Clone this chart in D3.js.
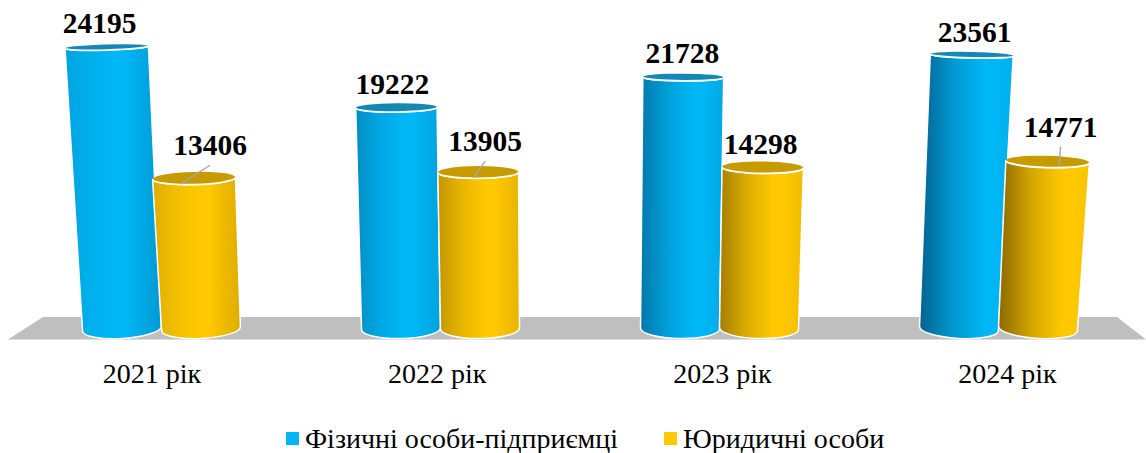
<!DOCTYPE html>
<html><head><meta charset="utf-8">
<script src="https://cdn.jsdelivr.net/npm/d3@7"></script>
<style>html,body{margin:0;padding:0;background:#fff}svg{display:block}text{font-family:"Liberation Serif","Times New Roman",serif;fill:#000}</style>
</head><body><svg id="c" width="1146" height="453"></svg>
<script>
const categories=["2021 рік","2022 рік","2023 рік","2024 рік"];
const seriesNames=["Фізичні особи-підприємці","Юридичні особи"];
const fop=[24195,19222,21728,23561];
const legal=[13406,13905,14298,14771];
const colorsLight=["#00b6f4","#ffc800"];
const colorsDark=["#045f8c","#8a6900"];
const colorsTop=["#1487b5","#c79a00"];
// layout only: hand-placed label nudges, as in the original
const labelDx=[[-7,-4,-1,3],[16,7,-2,13]];
const labelDy=[[-14,-14,-14,-13],[-23,-21,-13,-25]];
const leaderEndDx=[-13.5,-4.7,null,11.4];

const centre=573,k=1.4e-6,baseY=328.5,barW=79;
const svg=d3.select("#c");
const defs=svg.append("defs");
const y=d3.scaleLinear().domain([0,25000]).range([341,37.5]);
const groupX=d3.scaleBand().domain(categories).range([22.5,1138.5]);
const pr=(gx,v)=>centre+(gx-centre)*(1+k*v);

// floor
svg.append("path").attr("d",d3.line()([[8,339.5],[43,317],[1117,317],[1146,339.5]])+"Z").attr("fill","#bfbfbf");

const bars=[];
categories.forEach((c,i)=>{[fop,legal].forEach((arr,s)=>{
  const slot=groupX(c)+groupX.bandwidth()/2;
  bars.push({c,i,s,v:arr[i],gx:slot+(s===0?-40:39)});
});});

const g=svg.append("g");
const deg=Math.PI/180;
bars.forEach((b,n)=>{
  const off=(b.gx-centre)/centre;
  const tx=pr(b.gx,b.v),bx=b.gx;
  const rt=40+2.2*Math.abs(off), rb=barW/2;
  const ty=y(b.v);
  const ryT=1.5+ty*0.027, ryB=10;
  const aT=off*2*deg, aB=off*4.5*deg;
  const id="g"+n;
  const mix=d3.interpolateRgb(colorsLight[b.s],colorsDark[b.s]);
  const t=Math.max(0,Math.min(1,(off+.8)/1.55));
  const dark=mix(.2+.8*t);
  const rightEdge=mix(.32-.27*t);
  const peak=.5+.2*t;
  const gr=defs.append("linearGradient").attr("id",id);
  [[0,dark],[peak*.5,mix(.08+.3*t)],[peak,colorsLight[b.s]],[peak+.12,colorsLight[b.s]],[1,rightEdge]].forEach(([o,col])=>gr.append("stop").attr("offset",o).attr("stop-color",col));
  const tl=[tx-rt*Math.cos(aT),ty-rt*Math.sin(aT)], tr=[tx+rt*Math.cos(aT),ty+rt*Math.sin(aT)];
  const bl=[bx-rb*Math.cos(aB),baseY-rb*Math.sin(aB)], br=[bx+rb*Math.cos(aB),baseY+rb*Math.sin(aB)];
  const degT=aT/deg,degB=aB/deg;
  const body=`M${tl}A${rt},${ryT} ${degT} 0 0 ${tr}L${br}A${rb},${ryB} ${degB} 0 1 ${bl}Z`;
  g.append("path").attr("d",body).attr("fill",`url(#${id})`).attr("stroke","#fff").attr("stroke-width",1.5).attr("stroke-linejoin","round");
  g.append("ellipse").attr("rx",rt).attr("ry",ryT)
    .attr("transform",`translate(${tx},${ty}) rotate(${degT})`)
    .attr("fill",colorsTop[b.s]);
  g.append("path").attr("d",`M${tl}A${rt},${ryT} ${degT} 0 0 ${tr}`).attr("fill","none").attr("stroke","#fff").attr("stroke-width",1.8);
  b.tx=tx;b.ty=ty;b.ry=ryT;
});

// leader lines
bars.filter(b=>b.s===1&&leaderEndDx[b.i]!==null).forEach(b=>{
  svg.append("line")
    .attr("x1",b.tx+labelDx[1][b.i]).attr("y1",b.ty+labelDy[1][b.i]+10)
    .attr("x2",b.tx+leaderEndDx[b.i]).attr("y2",b.ty+b.ry-.5)
    .attr("stroke","#a6a6a6").attr("stroke-width",1.4);
});

// value labels
svg.append("g").selectAll("text").data(bars).join("text")
  .attr("x",b=>b.tx+labelDx[b.s][b.i]).attr("y",b=>b.ty+labelDy[b.s][b.i])
  .attr("text-anchor","middle").attr("font-weight","bold").attr("font-size",29.5)
  .text(b=>b.v);

// category axis
const axisX=d3.scalePoint().domain(categories).range([151.5,1007]);
const ax=svg.append("g").attr("transform","translate(0,383)")
  .call(d3.axisBottom(axisX).tickSize(0).tickPadding(0));
ax.select(".domain").remove();
ax.selectAll("text").attr("dy",0).attr("y",0).style("font-size","28px").style("font-family",'"Liberation Serif"');

// legend
const legend=svg.append("g");
[[286,305],[664,683]].forEach(([sx,tx],i)=>{
  legend.append("rect").attr("x",sx).attr("y",432).attr("width",13).attr("height",13).attr("fill",colorsLight[i]);
  legend.append("text").attr("x",tx).attr("y",447.5).attr("font-size",28).text(seriesNames[i]);
});
</script></body></html>
